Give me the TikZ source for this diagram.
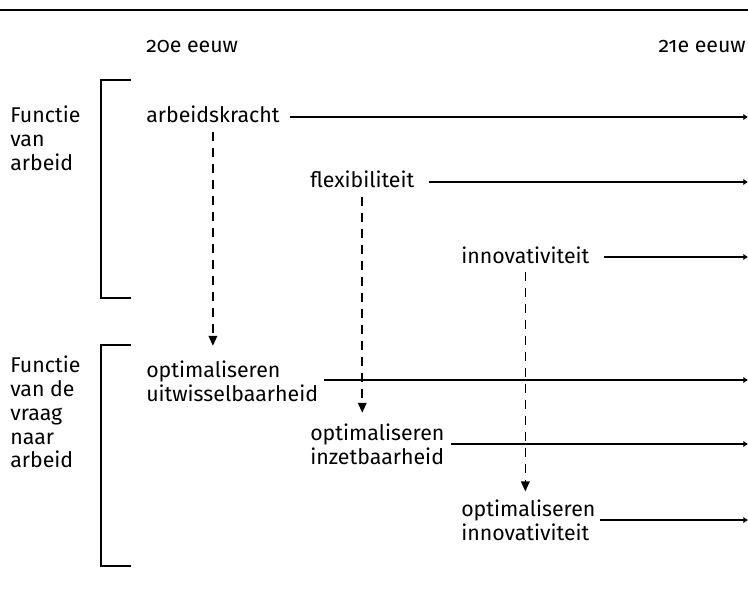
\documentclass[tikz,border=0pt]{standalone}
\usepackage{fontspec}
\setmainfont{Fira Sans}[Numbers=OldStyle]
\usetikzlibrary{arrows.meta}
\begin{document}
\begin{tikzpicture}[x=0.75pt,y=-0.75pt,
  txt/.style={inner sep=0pt,font=\fontsize{16}{17.8}\selectfont,align=left},
  rule/.style={line width=1pt,black},
  harrow/.style={line width=1pt,-{Latex[length=3.5pt,width=5pt]}},
  dasharrow/.style={line width=1.2pt,dash pattern=on 7pt off 5pt,-{Triangle[length=7.5pt,width=6.5pt]}}]
\useasboundingbox (0,0) rectangle (748,595);
% top rule
\draw[line width=1.1pt] (0,10) -- (748,10);
% headers
\node[txt,anchor=base west] (h20) at (146,53) {20e eeuw};
\node[txt,anchor=base east] (h21) at (746,53) {21e eeuw};
% left labels
\node[txt,anchor=north west] (fa) at (10,106) {Functie\\van\\arbeid};
\node[txt,anchor=north west] (fv) at (10,356) {Functie\\van de\\vraag\\naar\\arbeid};
% brackets
\draw[rule] (131,80) -- (101,80) -- (101,298) -- (131,298);
\draw[rule] (131,345) -- (101,345) -- (101,566) -- (131,566);
% upper items
\node[txt,anchor=base west] (arb) at (146,123) {arbeidskracht};
\node[txt,anchor=base west] (flex) at (310,188) {flexibiliteit};
\node[txt,anchor=base west] (inno) at (461,263) {innovativiteit};
% lower items
\node[txt,anchor=west] (ou) at (146,381) {optimaliseren\\uitwisselbaarheid};
\node[txt,anchor=west] (oi) at (310,444) {optimaliseren\\inzetbaarheid};
\node[txt,anchor=west] (on) at (461,520) {optimaliseren\\innovativiteit};
% right end points
\coordinate (e1) at (748,117);
\coordinate (e2) at (748,182);
\coordinate (e3) at (748,257);
\coordinate (e4) at (748,380);
\coordinate (e5) at (748,444);
\coordinate (e6) at (748,520);
% horizontal arrows
\draw[harrow] ([xshift=7.5pt]arb.east |- e1) -- (e1);
\draw[harrow] ([xshift=11pt]flex.east |- e2) -- (e2);
\draw[harrow] ([xshift=11pt]inno.east |- e3) -- (e3);
\draw[harrow] ([xshift=4pt]ou.east |- e4) -- (e4);
\draw[harrow] ([xshift=5pt]oi.east |- e5) -- (e5);
\draw[harrow] ([xshift=3pt]on.east |- e6) -- (e6);
% dashed arrows
\draw[dasharrow] ([yshift=-6pt]arb.south) -- ([yshift=11pt]arb.south |- ou.north);
\draw[dasharrow] ([yshift=-6pt]flex.south) -- ([yshift=8pt]flex.south |- oi.north);
\draw[dasharrow] ([yshift=-6pt]inno.south) -- ([yshift=6pt]inno.south |- on.north);
\end{tikzpicture}
\end{document}
